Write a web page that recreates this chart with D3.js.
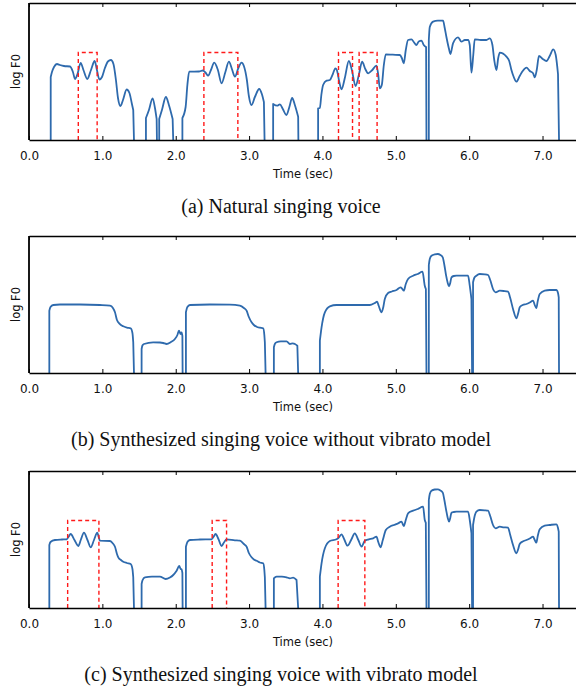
<!DOCTYPE html>
<html>
<head>
<meta charset="utf-8">
<script src="https://cdn.jsdelivr.net/npm/d3@7"></script>
<style>
  body { margin: 0; background: #fff; }
  .tick text { font-family: 'DejaVu Sans', sans-serif; font-size: 12px; fill: #111; }
  .axis-label { font-family: 'DejaVu Sans', sans-serif; font-size: 11.5px; fill: #111; }
  .caption { font-family: 'Liberation Serif', 'Times New Roman', serif; font-size: 20px; fill: #111; }
</style>
</head>
<body>
<div id="chart-area"></div>
<script>
// time (sec) and log F0 (relative height above the floor of the axis)
const timeTicks = [0, 1, 2, 3, 4, 5, 6, 7];
const timeMax = 7.47;
const f0Max = 137;

const naturalF0 = [
  [[0.296,0],[0.296,63],[0.313,68],[0.341,73],[0.381,76],[0.422,75],[0.477,74],[0.559,73.5],[0.599,68],[0.627,61],[0.661,66],[0.704,77],[0.742,70],[0.794,61],[0.845,70],[0.895,79],[0.926,70],[0.960,60.5],[0.995,63],[1.035,72],[1.076,78.5],[1.117,80],[1.151,76],[1.185,60],[1.213,42],[1.247,34],[1.281,40],[1.331,50.5],[1.369,47],[1.403,36],[1.421,30],[1.431,0]],
  [[1.594,0],[1.594,22],[1.635,30],[1.685,41.7],[1.717,32],[1.740,21],[1.744,0]],
  [[1.775,0],[1.775,21],[1.812,30],[1.866,43],[1.907,35],[1.958,21],[1.966,0]],
  [[2.091,0],[2.091,22],[2.135,33],[2.159,55],[2.184,68.3],[2.316,68.5],[2.371,69.5],[2.405,67.5],[2.443,64.3],[2.480,70],[2.525,77.3],[2.575,70],[2.625,56.7],[2.677,68],[2.725,78.3],[2.766,71],[2.807,63.3],[2.854,72],[2.898,77.3],[2.929,74],[2.970,60],[2.997,44],[3.034,35],[3.079,43],[3.138,51],[3.174,46],[3.202,38],[3.211,0]],
  [[3.328,0],[3.328,36],[3.383,34.3],[3.420,35.7],[3.460,31],[3.508,25],[3.549,33],[3.587,42],[3.624,35],[3.669,23.3],[3.672,0]],
  [[3.941,0],[3.941,31.7],[3.965,32],[3.985,45],[4.009,55],[4.056,59.3],[4.101,60],[4.142,66],[4.176,71.7],[4.196,70],[4.230,58],[4.260,50.7],[4.305,62],[4.360,79],[4.401,70],[4.451,54],[4.496,65],[4.541,78.3],[4.584,71],[4.623,66.7],[4.673,69.5],[4.737,74.3],[4.761,65],[4.782,51.7],[4.809,55],[4.837,75],[4.864,85.7],[4.959,85.3],[5.054,85],[5.082,82],[5.109,76.7],[5.136,90],[5.167,100],[5.214,100.7],[5.245,98],[5.282,95],[5.313,98.5],[5.350,99.3],[5.381,95],[5.413,93],[5.418,0]],
  [[5.450,0],[5.450,100],[5.463,113],[5.508,118.3],[5.572,119.3],[5.644,119.3],[5.667,112],[5.690,103],[5.722,92],[5.745,86],[5.780,96.7],[5.849,102.7],[5.895,98.3],[5.940,100],[5.985,100],[6.008,95],[6.031,67.3],[6.056,85],[6.076,100.7],[6.158,100],[6.236,100],[6.281,101.7],[6.317,95],[6.342,80],[6.372,70],[6.396,82],[6.417,87.3],[6.508,83.3],[6.546,79],[6.576,70],[6.608,63],[6.644,58.3],[6.689,64],[6.730,69],[6.781,72.3],[6.826,69],[6.871,66.7],[6.894,62.7],[6.921,70],[6.952,84],[7.003,81],[7.054,79],[7.098,84],[7.146,90.7],[7.180,85],[7.211,66],[7.225,0]]
];
const naturalBoxes = [[0.672, 0.929], [2.384, 2.847], [4.219, 4.410], [4.500, 4.745]];

const plainF0 = [
  [[0.277,0],[0.277,62.3],[0.293,66],[0.331,68],[0.422,68.5],[0.695,68.5],[0.967,68],[1.104,67.3],[1.144,65],[1.172,60.7],[1.199,53],[1.217,50.7],[1.253,48],[1.285,46.7],[1.335,45.3],[1.386,44.7],[1.410,40],[1.421,30.7],[1.431,0]],
  [[1.535,0],[1.535,24],[1.546,27.5],[1.567,29],[1.693,30.7],[1.785,30.5],[1.830,30],[1.876,29],[1.935,31],[1.989,34],[2.023,38],[2.044,42.3],[2.067,39],[2.080,40.7],[2.091,37],[2.094,0]],
  [[2.139,0],[2.139,60.7],[2.159,66],[2.193,68],[2.466,68.5],[2.738,68.3],[2.875,67.3],[2.929,65],[2.966,62.3],[2.997,56],[3.034,50.7],[3.065,48],[3.102,46.3],[3.147,45.3],[3.192,44.7],[3.208,38],[3.215,30.7],[3.225,0]],
  [[3.338,0],[3.338,25.7],[3.351,29],[3.375,30.7],[3.433,31.7],[3.511,31.7],[3.556,29],[3.597,29.7],[3.624,29],[3.658,27.3],[3.669,0]],
  [[3.965,0],[3.965,32.3],[3.988,45.7],[4.033,60.7],[4.101,66.7],[4.192,68],[4.441,68],[4.646,68],[4.714,70],[4.745,71.3],[4.768,67],[4.805,60.7],[4.830,66],[4.850,74],[4.895,80],[4.946,81.5],[5.010,83],[5.064,85.7],[5.089,84],[5.109,82.3],[5.136,89],[5.167,94],[5.236,97.3],[5.300,99],[5.364,101.3],[5.395,87.3],[5.410,84],[5.418,0]],
  [[5.450,0],[5.450,108],[5.463,114],[5.486,117.3],[5.531,118.7],[5.572,119],[5.608,118],[5.640,115.7],[5.662,108],[5.686,97.3],[5.708,90],[5.726,86.7],[5.742,90],[5.759,95.7],[5.790,97],[5.827,97.3],[5.985,97.3],[6.008,87.3],[6.031,74],[6.040,0]],
  [[6.053,0],[6.053,90.7],[6.069,95],[6.099,97.3],[6.144,99],[6.213,98.7],[6.258,98],[6.287,93],[6.325,84],[6.362,80.7],[6.417,82.3],[6.471,82],[6.530,81.3],[6.560,75],[6.598,64],[6.644,54.7],[6.669,60],[6.689,65.7],[6.730,68],[6.781,69],[6.826,70.5],[6.871,72.3],[6.894,68],[6.916,65],[6.935,72],[6.962,79],[7.030,82.3],[7.098,83],[7.188,83],[7.211,80],[7.221,75.7],[7.225,0]]
];

const vibratoF0 = [
  [[0.277,0],[0.277,63],[0.293,66],[0.354,68],[0.450,68.5],[0.514,68.7],[0.538,71],[0.568,74],[0.620,68],[0.672,62],[0.708,68.5],[0.749,75.3],[0.797,68],[0.841,60.7],[0.886,68],[0.931,75.3],[0.950,71],[0.967,67.3],[1.104,67],[1.144,64.5],[1.172,61.3],[1.199,54],[1.217,50.7],[1.253,48],[1.285,46.3],[1.335,45],[1.386,44],[1.410,39],[1.421,30.7],[1.431,0]],
  [[1.535,0],[1.535,24],[1.546,27.5],[1.580,30.7],[1.676,31.3],[1.785,31.3],[1.862,29],[1.921,30.5],[1.966,33],[2.010,37],[2.048,42],[2.067,39],[2.080,38.7],[2.091,35],[2.094,0]],
  [[2.139,0],[2.139,61.3],[2.159,66],[2.193,68],[2.330,68.5],[2.489,68.7],[2.514,71],[2.544,74],[2.582,69],[2.625,62],[2.657,65.5],[2.694,68.7],[2.807,67.7],[2.875,67.3],[2.929,64],[2.966,61.3],[2.997,55],[3.034,50.7],[3.065,48.5],[3.102,47.3],[3.147,45.5],[3.192,44.7],[3.208,38],[3.215,30.7],[3.225,0]],
  [[3.338,0],[3.338,29.7],[3.351,30.5],[3.375,31.3],[3.447,31.3],[3.511,30.7],[3.556,29.7],[3.601,30.3],[3.647,28],[3.669,0]],
  [[3.965,0],[3.965,31.3],[3.988,44.7],[4.033,59.7],[4.101,67],[4.192,68.7],[4.214,69.7],[4.260,73.7],[4.298,68.5],[4.342,62.3],[4.394,68.5],[4.441,74.7],[4.489,68],[4.533,61.3],[4.578,67.3],[4.632,68.7],[4.691,69.7],[4.737,71.3],[4.761,66],[4.792,60.7],[4.823,68],[4.864,78],[4.918,81.3],[4.973,83],[5.031,84.7],[5.078,86.3],[5.109,82],[5.136,88],[5.167,94.7],[5.236,97.3],[5.300,99],[5.372,101.3],[5.395,88],[5.409,85.3],[5.418,0]],
  [[5.450,0],[5.450,108],[5.463,114],[5.486,117.3],[5.531,118.5],[5.572,118.7],[5.608,117.5],[5.640,115.3],[5.662,108],[5.686,98],[5.708,90],[5.726,86.3],[5.742,90],[5.759,95.3],[5.790,96],[5.827,96.3],[5.985,96.3],[6.008,88],[6.031,74.7],[6.040,0]],
  [[6.053,0],[6.053,83],[6.069,90],[6.099,96.3],[6.144,98],[6.213,97.7],[6.258,97.3],[6.287,92],[6.325,83],[6.362,79.7],[6.417,81.3],[6.471,80.7],[6.530,80.3],[6.560,73],[6.598,63],[6.644,54.7],[6.669,59],[6.689,64],[6.730,66.5],[6.781,68],[6.826,69.5],[6.871,71.3],[6.894,68],[6.916,65.3],[6.935,72],[6.962,78.7],[7.030,82.3],[7.098,83],[7.188,83.7],[7.211,80],[7.221,76.3],[7.225,0]]
];
const vibratoBoxes = [[0.527, 0.953], [2.497, 2.693], [4.214, 4.578]];
const boxTop = 87.5;

const panels = [
  { f0: naturalF0, boxes: naturalBoxes, top: 3, caption: '(a) Natural singing voice' },
  { f0: plainF0, boxes: [], top: 236, caption: '(b) Synthesized singing voice without vibrato model' },
  { f0: vibratoF0, boxes: vibratoBoxes, top: 471, caption: '(c) Synthesized singing voice with vibrato model' }
];

const chartSize = { width: 576, height: 689 };
const margin = { left: 29, right: -1 };
const plotHeight = 137;

const svg = d3.select('#chart-area').append('svg')
  .attr('width', chartSize.width)
  .attr('height', chartSize.height);

const x = d3.scaleLinear()
  .domain([0, timeMax])
  .range([margin.left, chartSize.width - margin.right]);

const drawPanel = (p) => {
  const bottom = p.top + plotHeight;
  const y = d3.scaleLinear().domain([0, f0Max]).range([bottom, p.top]);
  const g = svg.append('g');

  const line = d3.line().x(d => x(d[0])).y(d => y(d[1])).curve(d3.curveMonotoneX);
  const segPath = s => {
    const first = s[0], last = s[s.length - 1];
    return `M${x(first[0])},${y(first[1])}L` + line(s.slice(1, -1)).slice(1) + `L${x(last[0])},${y(last[1])}`;
  };

  g.selectAll('path.f0')
    .data(p.f0)
    .enter()
    .append('path')
    .attr('class', 'f0')
    .attr('d', segPath)
    .attr('fill', 'none')
    .attr('stroke', '#2e6aad')
    .attr('stroke-width', 1.8)
    .attr('stroke-linejoin', 'round');

  g.selectAll('path.box')
    .data(p.boxes)
    .enter()
    .append('path')
    .attr('class', 'box')
    .attr('d', b => `M${x(b[0])},${y(0)}V${y(boxTop)}H${x(b[1])}V${y(0)}`)
    .attr('fill', 'none')
    .attr('stroke', '#ff1a1a')
    .attr('stroke-width', 1.4)
    .attr('stroke-dasharray', '4,3');

  const bottomAxis = d3.axisBottom(x)
    .tickValues(timeTicks)
    .tickFormat(d3.format('.1f'))
    .tickSizeInner(-4)
    .tickSizeOuter(0)
    .tickPadding(11);
  const bx = g.append('g')
    .attr('class', 'x axis')
    .attr('transform', `translate(0,${bottom})`)
    .call(bottomAxis);

  const topAxis = d3.axisTop(x)
    .tickValues(timeTicks)
    .tickFormat('')
    .tickSizeInner(-4)
    .tickSizeOuter(0);
  const tx = g.append('g')
    .attr('class', 'x axis')
    .attr('transform', `translate(0,${p.top})`)
    .call(topAxis);

  [bx, tx].forEach(a => {
    a.select('.domain').attr('stroke', '#000').attr('stroke-width', 1.5);
    a.selectAll('.tick line').attr('stroke', '#000').attr('stroke-width', 1);
  });
  bx.selectAll('.tick text').attr('fill', '#111');

  g.append('line')
    .attr('x1', margin.left).attr('x2', margin.left)
    .attr('y1', p.top).attr('y2', bottom)
    .attr('stroke', '#000')
    .attr('stroke-width', 1.8);

  g.append('text')
    .attr('class', 'axis-label')
    .attr('text-anchor', 'middle')
    .attr('x', (x.range()[0] + x.range()[1]) / 2)
    .attr('y', bottom + 37.5)
    .text('Time (sec)');

  g.append('text')
    .attr('class', 'axis-label')
    .attr('text-anchor', 'middle')
    .attr('transform', `translate(20,${(p.top + bottom) / 2}) rotate(-90)`)
    .text('log F0');

  g.append('text')
    .attr('class', 'caption')
    .attr('text-anchor', 'middle')
    .attr('x', 281)
    .attr('y', bottom + 73)
    .text(p.caption);
};

panels.forEach(drawPanel);
</script>
</body>
</html>
